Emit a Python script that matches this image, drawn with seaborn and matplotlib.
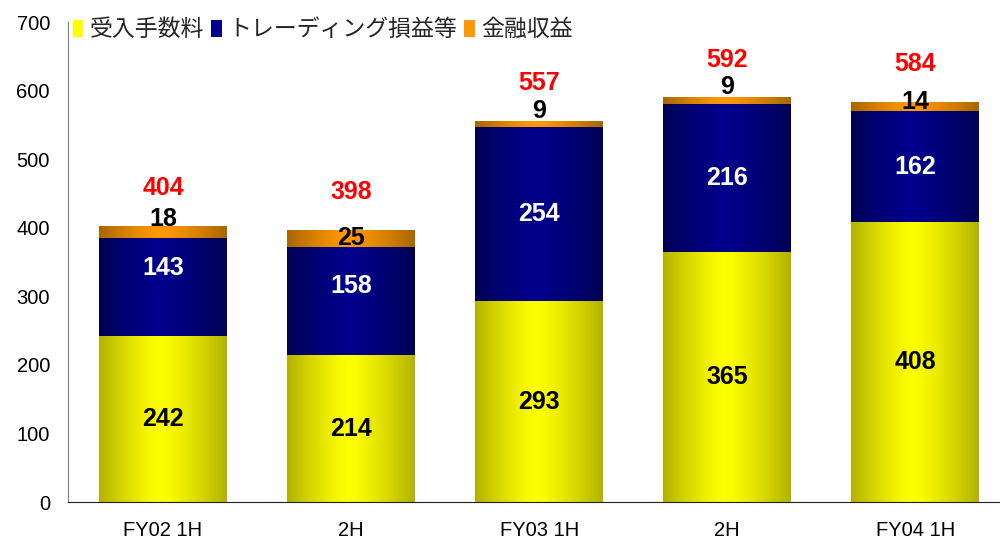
import numpy as np
import pandas as pd
import matplotlib
matplotlib.use('Agg')
import matplotlib.pyplot as plt
import seaborn as sns
from matplotlib.patches import Patch

# data
periods = ['FY02 1H', 'FY02 2H', 'FY03 1H', 'FY03 2H', 'FY04 1H']
tick_labels = ['FY02 1H', '2H', 'FY03 1H', '2H', 'FY04 1H']
commission = [242, 214, 293, 365, 408]
trading = [143, 158, 254, 216, 162]
financial = [18, 25, 9, 9, 14]
totals = [404, 398, 557, 592, 584]
series_names = ['受入手数料', 'トレーディング損益等', '金融収益']

# label nudges (points), matching where the original labels sit
trading_nudge = [14, 11, 0, 0, 0]
financial_nudge = [9, 0, 9, 10, 3]

sns.set_style('white')
plt.rcParams['font.family'] = ['Liberation Sans', 'Noto Sans CJK JP', 'DejaVu Sans']

df = pd.DataFrame({'period': periods, 'commission': commission,
                   'trading': trading, 'financial': financial})
df['c1'] = df['commission']
df['c2'] = df['c1'] + df['trading']
df['c3'] = df['c2'] + df['financial']

fig = plt.figure(figsize=(10, 5.44), dpi=100)
ax = fig.add_axes([0.068, 42 / 544, 0.932, 480 / 544])

# colours: (center, edge) for the cylinder-like shading
shades = [((1.0, 1.0, 0.0), (0.70, 0.70, 0.0)),
          ((0.0, 0.0, 0.55), (0.0, 0.0, 0.33)),
          ((1.0, 0.60, 0.0), (0.66, 0.40, 0.0))]


def gradient(center, edge, n=200, peak=0.48):
    t = np.linspace(0, 1, n)
    d = np.where(t < peak, (peak - t) / peak, (t - peak) / (1 - peak))
    w = d ** 1.3
    c = np.array(center)[None, :] * (1 - w[:, None]) + np.array(edge)[None, :] * w[:, None]
    return c[None, :, :]


layers = ['c3', 'c2', 'c1']
for i, col in enumerate(layers):
    before = len(ax.patches)
    sns.barplot(data=df, x='period', y=col, color=shades[2 - i][1], width=0.68,
                saturation=1, ax=ax, zorder=1 + i, errorbar=None, linewidth=0)
    for p in ax.patches[before:]:
        x0, y0 = p.get_x(), p.get_y()
        w, h = p.get_width(), p.get_height()
        im = ax.imshow(gradient(*shades[2 - i]), extent=(x0, x0 + w, y0, y0 + h),
                       aspect='auto', zorder=1.5 + i, interpolation='bilinear')
        im.set_clip_path(p)

ax.set_xlim(-0.505, 4.45)
ax.set_ylim(0, 700)
ax.set_yticks(range(0, 701, 100))
ax.set_xticks(range(len(periods)))
ax.set_xticklabels(tick_labels)
ax.set_xlabel('')
ax.set_ylabel('')
ax.tick_params(axis='both', length=0, labelsize=14.5, colors='black')
ax.tick_params(axis='x', pad=14)
ax.tick_params(axis='y', pad=13)
for s in ['top', 'right']:
    ax.spines[s].set_visible(False)
ax.spines['left'].set_color('#808080')
ax.spines['bottom'].set_color('#202020')
ax.spines['left'].set_zorder(10)
ax.spines['bottom'].set_zorder(10)

lab = dict(fontsize=18, fontweight='bold', ha='center', va='center', zorder=20)
for i in range(len(periods)):
    ax.text(i, commission[i] / 2, str(commission[i]), color='black', **lab)
    ax.annotate(str(trading[i]), (i, commission[i] + trading[i] / 2),
                xytext=(0, trading_nudge[i]), textcoords='offset points',
                color='white', **lab)
    ax.annotate(str(financial[i]), (i, df['c2'][i] + financial[i] / 2),
                xytext=(0, financial_nudge[i]), textcoords='offset points',
                color='black', **lab)
    ax.annotate(str(totals[i]), (i, df['c3'][i]),
                xytext=(0, 27), textcoords='offset points',
                color='#ff0000', **lab)

handles = [Patch(facecolor=shades[k][0], edgecolor='none') for k in range(3)]
fig.legend(handles, series_names, loc='center left', bbox_to_anchor=(0.073, 0.945),
           ncol=3, frameon=False, fontsize=16.5, handlelength=0.45, handleheight=0.75,
           handletextpad=0.3, columnspacing=0.3, borderpad=0, borderaxespad=0)

fig.savefig('out.png', dpi=100)
